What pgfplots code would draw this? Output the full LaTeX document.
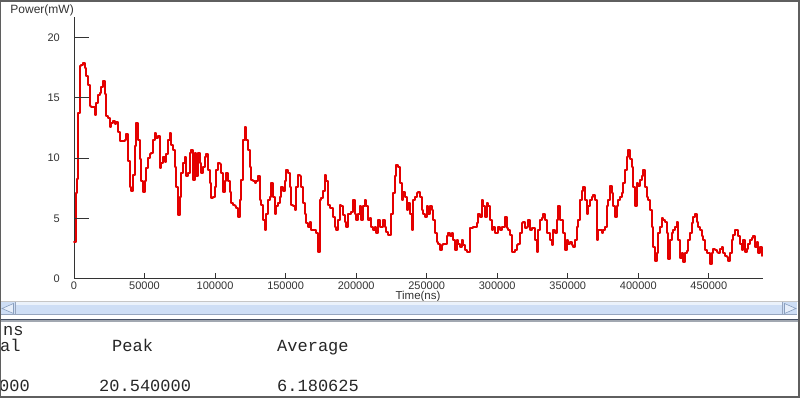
\documentclass[border=0pt]{standalone}
\usepackage{pgfplots}
\pgfplotsset{compat=1.18}
\usepackage{pgfplotstable}
\usepackage{fontspec}
\setmainfont{Liberation Sans}
\newfontfamily\monofont{Liberation Mono}
\definecolor{sigred}{RGB}{228,0,0}
\definecolor{scrollblue}{RGB}{206,222,245}
\definecolor{scrolledge}{RGB}{150,165,190}
\definecolor{arrowblue}{RGB}{170,198,238}
\definecolor{slate}{RGB}{70,80,100}
\definecolor{framegray}{RGB}{95,95,95}

\pgfplotstableread{
x y
0 3.07
1182 7.1
2128 8.3
3073 13.7
4019 17.6
5201 17.7
6383 17.9
7565 17.5
8747 16.8
9929 16.1
11111 14.3
12293 14.2
13475 14.2
14657 13.6
15839 14.6
17021 15.2
18203 15.4
19385 15.9
20567 16.4
21749 15.3
22931 13.5
24113 13.3
25295 12.6
26477 12.9
27659 13.1
28841 12.8
30023 13.0
31205 12.2
32387 11.4
33569 11.4
34751 11.4
35933 11.5
37115 12.0
38297 9.8
39479 7.6
40661 7.3
41843 8.6
43025 11.0
44207 12.9
45389 11.5
46571 9.9
47753 8.1
48935 7.2
50117 8.1
51299 9.2
52481 10.0
53663 10.3
54845 10.4
56027 11.5
57209 12.1
58391 11.7
59573 11.8
60755 9.2
61937 9.6
63119 10.1
64301 9.7
65483 10.3
66665 11.5
67847 12.1
69029 11.1
70211 10.7
71393 9.3
72575 7.6
73757 5.3
74939 6.8
76121 8.75
77303 9.6
78485 10.1
79667 8.5
80849 8.75
82031 10.4
83213 10.7
84395 8.2
85577 10.4
86759 8.5
87941 10.4
89123 9.6
90305 8.75
91487 9.3
92669 10.1
93851 10.3
95033 9.0
96215 7.9
97397 6.7
98579 6.8
99761 7.6
100943 9.0
102125 9.6
103307 9.5
104489 8.75
105671 7.2
106853 8.06
108035 8.75
109217 8.06
110399 7.2
111581 6.26
112763 6.1
113945 6.0
115127 5.85
116309 5.15
117491 6.5
118673 8.2
119855 11.5
121037 12.6
122219 11.5
123401 10.7
124583 9.3
125765 8.2
126947 8.06
128129 7.9
129311 8.06
130493 8.5
131675 6.5
132857 6.1
134039 4.9
135221 4.05
136403 5.4
137585 6.5
138767 6.8
139949 7.9
141131 6.8
142313 5.4
143495 6.0
144677 6.26
145859 6.8
147041 7.6
148223 7.3
149405 8.06
150587 9.0
151769 8.75
152951 7.6
154133 6.1
155315 6.0
156497 5.7
157679 7.6
158861 8.6
160043 8.5
161225 7.6
162407 6.26
163589 5.4
164771 4.6
165953 4.3
167135 4.7
168317 4.05
169499 4.05
170681 4.05
171863 3.77
173045 2.24
174227 6.5
175409 6.7
176591 7.3
177773 8.6
178955 8.06
180137 6.1
181319 5.85
182501 5.85
183683 5.15
184865 4.3
186047 4.05
187229 4.9
188411 6.1
189593 6.0
190775 5.3
191957 4.7
193139 4.3
194321 5.4
195503 5.4
196685 5.55
197867 6.5
199049 5.4
200231 4.9
201413 5.4
202595 6.0
203777 4.9
204959 6.0
206141 6.5
207323 6.0
208505 4.9
209687 5.0
210869 4.3
212051 4.05
213233 4.3
214415 3.77
215597 4.9
216779 4.3
217961 4.3
219143 4.9
220325 4.3
221507 3.9
222689 3.6
223871 3.6
225053 5.4
226235 7.1
227417 8.5
228599 9.45
229781 9.3
230963 7.9
232145 6.5
233327 7.2
234509 6.8
235691 5.7
236873 6.26
238055 5.4
239237 4.05
240419 6.5
241601 6.8
242783 7.1
243965 7.2
245147 6.8
246329 5.7
247511 5.4
248693 5.15
249875 6.0
251057 5.4
252239 6.0
253421 5.7
254603 4.9
255785 3.77
256967 3.07
258149 2.9
259331 2.35
260513 2.8
261695 2.9
262877 2.9
264059 3.5
265241 3.77
266423 3.5
267605 3.77
268787 3.2
269969 2.35
271151 3.2
272333 2.9
273515 2.6
274697 3.2
275879 2.8
277061 2.35
278243 2.24
279425 2.24
280607 4.2
281789 4.2
282971 4.3
284153 4.3
285335 4.6
286517 5.4
287699 5.15
288881 6.5
290063 6.0
291245 5.15
292427 6.26
293609 6.0
294791 4.9
295973 4.05
297155 4.3
298337 3.77
299519 3.77
300701 4.3
301883 4.05
303065 4.3
304247 4.3
305429 5.15
306611 4.2
307793 4.05
308975 3.6
310157 2.24
311339 2.24
312521 2.35
313703 2.8
314885 2.9
316067 3.77
317249 4.6
318431 4.7
319613 4.2
320795 4.3
321977 4.9
323159 4.05
324341 4.2
325523 4.2
326705 3.2
327887 2.24
329069 4.05
330251 4.9
331433 5.0
332615 5.4
333797 4.9
334979 3.77
336161 3.77
337343 3.2
338525 2.8
339707 4.05
340889 3.77
342071 4.9
343253 6.0
344435 4.9
345617 4.9
346799 3.77
347981 2.35
349163 3.2
350345 2.9
351527 3.07
352709 2.8
353891 2.6
355073 3.2
356255 4.3
357437 4.9
358619 6.5
359801 7.3
360983 7.6
362165 6.5
363347 5.4
364529 6.0
365711 6.5
366893 6.8
368075 6.9
369257 6.5
370439 3.2
371621 4.05
372803 4.05
373985 3.77
375167 4.05
376349 4.3
377531 6.0
378713 6.5
379895 7.7
381077 7.1
382259 6.0
383441 5.15
384623 6.0
385805 6.5
386987 6.8
388169 7.1
389351 7.9
390533 9.0
391715 10.1
392897 10.7
394079 9.9
395261 9.3
396443 7.6
397625 6.0
398807 7.9
399989 7.7
401171 8.2
402353 8.5
403535 9.0
404717 7.6
405899 6.8
407081 6.5
408263 5.7
409445 4.3
410627 2.6
411809 1.5
412991 2.1
414173 3.77
415355 4.3
416537 5.0
417719 4.9
418901 4.7
420083 3.77
421265 1.6
422447 3.2
423629 3.77
424811 4.05
425993 4.3
427175 4.7
428357 3.2
429539 1.7
430721 2.1
431903 1.4
433085 2.1
434267 2.3
435449 3.2
436631 3.77
437813 4.6
438995 5.15
440177 5.4
441359 4.7
442541 4.3
443723 4.05
444905 3.5
446087 3.2
447269 2.35
448451 2.1
449633 2.1
450815 1.24
451997 2.1
453179 2.5
454361 2.35
455543 2.24
456725 2.1
457907 2.5
459089 2.6
460271 2.1
461453 1.9
462635 1.77
463817 1.5
464999 2.1
466181 3.2
467363 3.6
468545 4.05
469727 4.05
470909 3.5
472091 2.9
473273 2.35
474455 3.2
475637 2.24
476819 2.5
478001 2.9
479183 3.2
480365 3.4
481547 3.5
482729 2.6
483911 3.07
485093 2.1
486275 2.6
487457 1.9
}\powerdata

\begin{document}
\begin{tikzpicture}[x=1pt,y=1pt]
\useasboundingbox (0,0) rectangle (800,398);
\fill[white] (0,0) rectangle (800,398);
\begin{axis}[
  at={(74pt,119.3pt)}, anchor=south west,
  scale only axis, width=689pt, height=261.7pt,
  xmin=0, xmax=488400, ymin=0, ymax=21.7,
  axis x line=bottom, axis y line=left,
  axis line style={-, draw=black!80, line width=0.9pt},
  scaled x ticks=false, scaled y ticks=false,
  xtick={0,50000,100000,150000,200000,250000,300000,350000,400000,450000},
  xticklabels={0,50000,100000,150000,200000,250000,300000,350000,400000,450000},
  ytick={0,5,10,15,20},
  yticklabels={0,5,10,15,20},
  tick align=inside, major tick length=6pt,
  xtick style={draw=black!80, line width=0.8pt},
  ytick style={draw=none},
  /pgf/number format/assume math mode=true,
  ticklabel style={font=\fontsize{11}{13}\selectfont, text=black!80},
  yticklabel style={anchor=east, inner sep=0pt},
  yticklabel shift=14pt,
  xticklabel style={anchor=north, inner sep=0pt},
  xticklabel shift=3pt,
  clip=false,
]
\addplot[const plot, draw=sigred, mark=none, line width=2pt, line join=round, line cap=round] table[x=x, y=y] {\powerdata};
\draw[black!80, line width=0.8pt] (axis cs:0,5) -- ++(15pt,0);
\draw[black!80, line width=0.8pt] (axis cs:0,10) -- ++(15pt,0);
\draw[black!80, line width=0.8pt] (axis cs:0,15) -- ++(15pt,0);
\draw[black!80, line width=0.8pt] (axis cs:0,20) -- ++(15pt,0);
\end{axis}
% axis titles
\node[anchor=base east, inner sep=0pt, font=\fontsize{12}{14}\selectfont, text=black!80] at (74,384.5) {Power(mW)};
\node[anchor=base, inner sep=0pt, font=\fontsize{11.5}{14}\selectfont, text=black!80] at (418,98) {Time(ns)};
% scrollbar
\fill[white] (0,76) rectangle (800,96);
\fill[gray!45] (0,95.5) rectangle (800,96.8);
\fill[scrollblue] (0,83.5) rectangle (797,95.5);
\fill[white!60!scrollblue] (15,93) rectangle (782,95.5);
\draw[scrolledge, line width=0.8pt] (0,83.3) -- (797,83.3);
\draw[scrolledge, line width=0.6pt] (15,83.5) -- (15,95.5);
\draw[scrolledge, line width=0.6pt] (782,83.5) -- (782,95.5);
\filldraw[fill=white!70!arrowblue, draw=arrowblue!80!black, line width=0.6pt] (2,89.5) -- (13.5,94.5) -- (13.5,84.5) -- cycle;
\filldraw[fill=white!70!arrowblue, draw=arrowblue!80!black, line width=0.6pt] (796,89.5) -- (784.5,94.5) -- (784.5,84.5) -- cycle;
% separator
\fill[slate] (0,77.5) rectangle (800,79.3);
\fill[slate!50] (0,76.3) rectangle (800,77.5);
% text panel
\node[anchor=base west, inner sep=0pt, font=\monofont\fontsize{17}{20}\selectfont, text=black!85] at (3,62) {ns};
\node[anchor=base west, inner sep=0pt, font=\monofont\fontsize{17}{20}\selectfont, text=black!85] at (0,46) {al};
\node[anchor=base west, inner sep=0pt, font=\monofont\fontsize{17}{20}\selectfont, text=black!85] at (112,46) {Peak};
\node[anchor=base west, inner sep=0pt, font=\monofont\fontsize{17}{20}\selectfont, text=black!85] at (277,46) {Average};
\node[anchor=base west, inner sep=0pt, font=\monofont\fontsize{17}{20}\selectfont, text=black!85] at (-1,6) {000};
\node[anchor=base west, inner sep=0pt, font=\monofont\fontsize{17}{20}\selectfont, text=black!85] at (99,6) {20.540000};
\node[anchor=base west, inner sep=0pt, font=\monofont\fontsize{17}{20}\selectfont, text=black!85] at (277,6) {6.180625};
% frame
\draw[framegray, line width=2pt] (0,397) -- (800,397);
\draw[framegray, line width=1.2pt] (0.6,0) -- (0.6,398);
\draw[framegray, line width=2pt] (799,0) -- (799,398);
\draw[framegray, line width=1.5pt] (0,0.75) -- (800,0.75);
\end{tikzpicture}
\end{document}
